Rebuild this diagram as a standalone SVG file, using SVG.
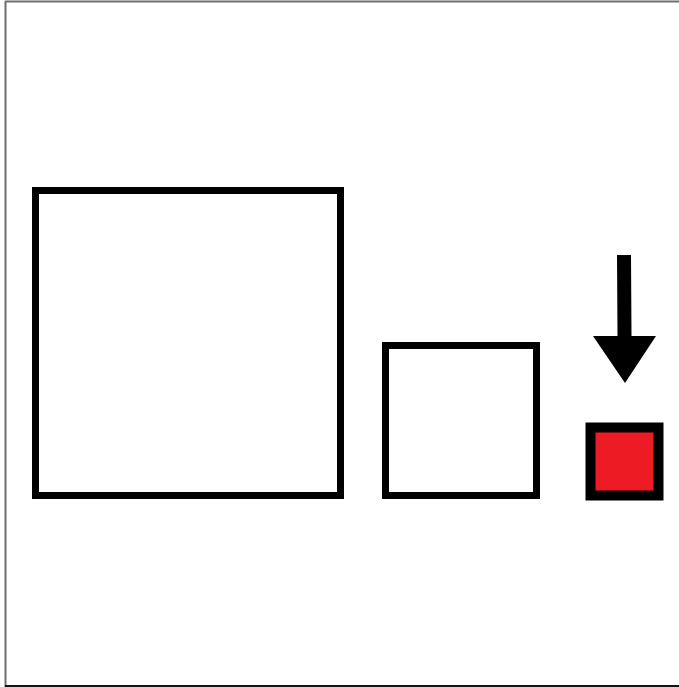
<svg xmlns="http://www.w3.org/2000/svg" width="679" height="687" viewBox="0 0 679 687">
<style>
.sq{fill:#fff;stroke:#000;stroke-width:7}
.red{fill:#ED1C24;stroke:#000;stroke-width:10}
</style>
<rect width="679" height="687" fill="#fff"/>
<g id="frame">
<line x1="5.5" y1="1" x2="5.5" y2="687" stroke="#6e6e6e" stroke-width="2"/>
<line x1="5" y1="1.5" x2="679" y2="1.5" stroke="#6e6e6e" stroke-width="2"/>
<line x1="5" y1="686" x2="679" y2="686" stroke="#111" stroke-width="2"/>
</g>
<g id="large-square"><rect class="sq" x="35.5" y="190.5" width="305" height="305"/></g>
<g id="medium-square"><rect class="sq" x="385.5" y="345.5" width="151" height="150"/></g>
<g id="small-square"><rect class="red" x="590.5" y="427.5" width="68" height="68"/></g>
<g id="connectors">
<polygon points="617,255 631,255 631.5,336 656,336 625,383 593,336 617.5,336" fill="#000"/>
</g>
</svg>
